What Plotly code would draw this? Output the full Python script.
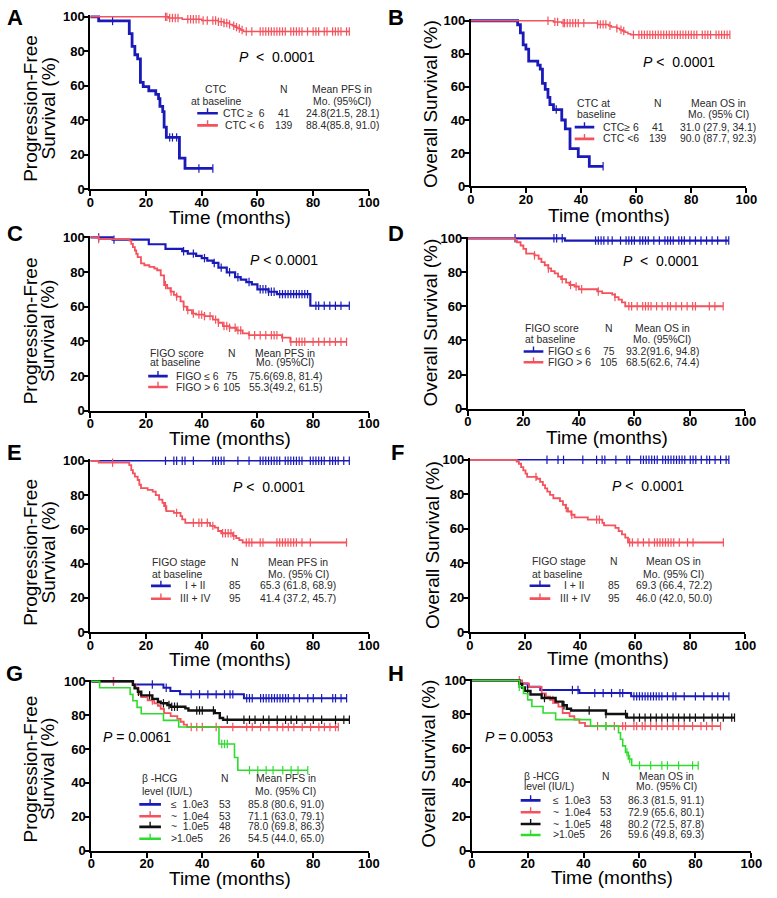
import numpy as np
import plotly.graph_objects as go

W, H = 777, 898
FONT = "Liberation Sans, Arial, sans-serif"
BLUE = "#1a1ab8"
RED = "#f4525c"
BLACK = "#111111"
GREEN = "#2edc2e"

# ---------------- data (time in months, survival in %) ----------------
# A: PFS by CTC at baseline
a_blue_t = [0, 3, 14, 15, 16, 17, 18, 19, 21, 23.5, 24.5, 25, 26, 26.5, 27.3, 32, 34, 44]
a_blue_s = [100, 97.6, 90.2, 82.9, 78.0, 75.6, 62.0, 59.5, 57.1, 55.0, 52.5, 48.0, 45.0, 36.0, 30.0, 18.0, 12.0, 12.0]
a_blue_c = [8, 28.5, 29.5, 31, 39, 44]
a_red_t = [0, 28, 33, 40, 46, 48, 50, 51, 52, 53, 54, 55, 93]
a_red_s = [100, 99.3, 98.6, 97.9, 97.1, 96.4, 95.6, 94.8, 94.0, 93.2, 92.4, 91.5, 91.5]
a_red_c = [27, 27.5, 28.5, 29.5, 30.5, 31.5, 35, 36, 37, 38, 39, 40.5, 42, 44, 45, 46, 47, 48, 49, 50,
           51.5, 52.5, 53.5, 54.5, 56, 58, 61, 62, 63, 64, 65, 66, 67, 68, 69, 70, 72, 73, 74, 75, 76,
           78, 80, 81, 82, 84, 85, 87, 88, 89, 90, 92, 93]

# B: OS by CTC at baseline
b_blue_t = [0, 17, 18, 19, 20, 21, 24.3, 25.2, 26, 27, 28, 28.7, 30, 33, 34.3, 36, 39, 43, 48]
b_blue_s = [100, 97.6, 92.7, 85.4, 82.9, 75.6, 73.2, 70.7, 62.2, 58.5, 53.7, 49.3, 46.3, 40.0, 34.6, 22.7, 17.8, 12.0, 12.0]
b_blue_c = [31, 48]
b_red_t = [0, 30, 33, 46, 50, 51, 53, 54, 55, 56, 57, 58, 94]
b_red_s = [100, 99.3, 98.6, 97.8, 97.0, 96.2, 95.4, 94.6, 93.8, 93.0, 92.2, 91.5, 91.5]
b_red_c = [28, 30.5, 31.5, 33.5, 34, 35, 36, 37, 38, 39, 41, 46, 47, 48, 49, 50.5, 53, 54.5, 55.5, 59,
           61, 62, 63, 64, 65, 66, 67, 68, 69, 70, 71, 72, 73, 74, 75, 76, 77, 78, 79, 80, 81, 82, 84,
           85, 86, 87, 89, 90, 91, 92, 93, 94]

# C: PFS by FIGO score
c_blue_t = [0, 8, 21, 27, 33, 35, 38, 40, 42, 44, 46, 49, 52, 54, 56, 58, 60, 64, 67, 79, 93]
c_blue_s = [100, 98.7, 96.0, 93.3, 92.0, 90.6, 89.3, 88.0, 86.6, 85.2, 82.5, 79.8, 77.0, 75.6, 74.2,
            72.8, 70.0, 68.6, 67.2, 60.5, 60.5]
c_blue_c = [3, 8.5, 33.5, 37, 41, 44.5, 47, 50, 53, 57, 61, 62, 63, 64, 65, 66, 68, 69, 70, 71, 72, 73,
            74, 75, 76, 77, 78, 81, 82, 84, 86, 88, 90, 93]
c_red_t = [0, 3, 14, 14.7, 15.3, 16, 16.5, 17, 18.2, 19.4, 21.2, 23, 24, 25.3, 26.5, 27.6, 28.8, 30, 31,
           32.4, 33.5, 34.7, 36.5, 38, 41, 44, 46, 47.6, 50, 52.4, 54.7, 57, 68.8, 71.8, 92]
c_red_s = [100, 99.0, 98.1, 96.2, 94.3, 92.4, 90.5, 88.6, 85.0, 83.9, 82.9, 82.0, 81.0, 78.0, 72.5, 70.6,
           68.7, 66.8, 65.8, 63.0, 60.0, 58.0, 56.0, 55.4, 54.5, 52.5, 50.7, 48.8, 47.8, 46.3, 44.6,
           43.5, 42.1, 39.7, 39.7]
c_red_c = [3, 27, 29, 31, 33.5, 35, 37, 39, 40, 41, 43, 45, 46, 48, 49, 50, 52, 53, 54, 57, 59, 61, 63,
           65, 66, 67, 69, 72, 74, 75, 76, 77, 80, 82, 84, 86, 88, 90, 92]

# D: OS by FIGO score
d_blue_t = [0, 35, 94]
d_blue_s = [100, 98.7, 98.7]
d_blue_c = [17, 31, 32, 34, 46, 47, 48, 49, 50.5, 52, 55, 57, 58, 59, 60, 62, 63, 64, 65, 67, 69, 71, 72,
            73, 74, 76, 77, 78, 80, 82, 84, 86, 88, 90, 93, 94]
d_red_t = [0, 17, 17.7, 19, 20, 21, 24, 25.5, 26.5, 27.7, 29, 30, 31.3, 32.5, 33.6, 35.4, 36.6, 38.4, 40,
           46.6, 48.4, 52, 53, 54.3, 55.5, 56.7, 92]
d_red_s = [100, 98.6, 97.7, 95.8, 93.8, 91.0, 90.0, 88.0, 86.0, 84.2, 82.3, 80.7, 79.4, 77.5, 76.0, 74.0,
           72.6, 71.7, 70.1, 68.8, 67.8, 66.9, 65.5, 64.0, 62.4, 60.1, 60.1]
d_red_c = [24, 29, 34, 37, 39, 41, 47, 53, 58, 59, 61, 63, 64, 65, 66, 68, 70, 72, 73, 75, 77, 79, 81, 82,
           87, 89, 92]

# E: PFS by FIGO stage
e_blue_t = [0, 93]
e_blue_s = [100, 100]
e_blue_c = [27, 30, 31, 33, 34, 37, 44, 45, 46, 47, 48, 53, 57, 61, 62, 63, 64, 65, 66, 67, 68, 70, 71,
            72, 73, 74, 75, 76, 79, 80, 81, 82, 83, 84, 86, 87, 88, 89, 91, 93]
e_red_t = [0, 3, 14, 14.7, 15.3, 16, 17, 17.6, 18.2, 20.6, 22.4, 23.5, 24.7, 25.9, 26.5, 27.3, 30, 32.4,
           33, 34.1, 43, 44.7, 45.9, 47, 51.2, 52.4, 53.5, 54.7, 92]
e_red_s = [100, 98.9, 97.5, 94.6, 92.7, 90.8, 88.8, 86.0, 84.0, 83.0, 82.0, 80.0, 77.3, 75.4, 73.5, 70.6,
           69.6, 67.7, 65.8, 63.8, 62.0, 61.0, 59.0, 57.7, 56.2, 54.8, 53.7, 52.3, 52.3]
e_red_c = [8, 27, 31, 37, 39, 40, 42, 44, 47.5, 48.5, 49.5, 50.5, 51.5, 56, 57, 58, 61, 62, 67, 68, 69,
           70, 71, 72, 73, 74, 76, 79, 92]

# F: OS by FIGO stage
f_blue_t = [0, 94]
f_blue_s = [100, 100]
f_blue_c = [28, 32, 34, 41, 46, 48, 49, 53, 57, 58, 62, 63, 64, 65, 66, 67, 68, 70, 71, 72, 73, 74, 75,
            76, 77, 78, 80, 81, 82, 84, 86, 87, 89, 91, 93, 94]
f_red_t = [0, 17, 17.8, 18.6, 19.4, 20.2, 20.8, 24.3, 25.5, 26.5, 27.3, 28.1, 29.1, 30.3, 32.7, 33.8,
           34.8, 35.6, 36.8, 38, 42.8, 48.1, 48.7, 52.8, 54, 55.2, 56.4, 57.4, 92]
f_red_s = [100, 98.9, 97.7, 95.8, 93.9, 92.0, 90.1, 89.0, 87.2, 85.3, 83.4, 81.5, 79.6, 77.7, 76.0, 73.9,
           72.0, 70.0, 68.1, 66.6, 65.3, 63.4, 62.0, 60.5, 58.6, 56.7, 54.8, 52.0, 52.0]
f_red_c = [24, 35, 37, 46, 47, 58, 59, 61, 63, 65, 67, 68, 69, 70, 71, 72, 73, 74, 76, 79, 81, 92]

# G: PFS by beta-HCG level
g_blue_t = [0, 15, 26, 28.5, 32, 55, 92]
g_blue_s = [100, 98.1, 96.2, 94.2, 92.3, 90.0, 90.0]
g_blue_c = [8, 22, 27, 36, 39, 42, 45, 48, 50, 51, 56, 57, 58, 61, 62, 63, 64, 65, 66, 67, 68, 69, 70,
            71, 73, 75, 78, 80, 83, 87, 88, 90, 92]
g_red_t = [0, 15, 16, 17, 18, 20.3, 22.7, 24, 25, 26.2, 28.6, 31, 32.2, 33.3, 34.5, 89]
g_red_s = [100, 98.1, 96.2, 92.5, 90.6, 88.7, 87.0, 85.5, 83.8, 81.2, 79.4, 77.8, 76.1, 74.4, 73.0, 73.0]
g_red_c = [8, 22, 36, 38, 40, 45, 51, 56, 58, 61, 64, 67, 69, 71, 73, 76, 79, 82, 84, 86, 88, 89]
g_black_t = [0, 15, 15.6, 16.8, 18, 22, 24, 25, 27.4, 28.6, 33.9, 35, 44.5, 46.3, 47.5, 93]
g_black_s = [100, 97.9, 95.8, 93.8, 91.7, 89.6, 87.9, 87.0, 86.0, 85.0, 84.0, 82.8, 81.2, 78.3, 77.3, 77.3]
g_black_c = [17, 21, 26, 28, 29, 30, 31, 38, 39, 40, 44, 49, 55, 57, 59, 62, 64, 67, 70, 72, 74, 77, 80,
             83, 88, 91, 93]
g_green_t = [0, 3, 14, 15, 16.5, 18, 26, 31.5, 46, 51.6, 52.8, 78]
g_green_s = [100, 96.2, 92.3, 88.5, 84.6, 80.8, 76.9, 73.0, 63.0, 55.0, 47.5, 47.5]
g_green_c = [47, 48, 49, 57, 60, 63, 65.5, 69, 72, 74.5, 78]

# H: OS by beta-HCG level
h_blue_t = [0, 17, 20, 24.5, 38.5, 57, 92]
h_blue_s = [100, 98.1, 96.2, 94.3, 92.5, 90.6, 90.6]
h_blue_c = [36, 38, 44, 47, 50, 53, 54, 58, 59, 60, 61, 62, 63, 64, 65, 66, 67, 68, 70, 72, 73, 76, 80,
            83, 86, 88, 90, 92]
h_red_t = [0, 18, 20.5, 25, 26.5, 28, 29.5, 31, 32.5, 35, 36.7, 38.5, 40.5, 89]
h_red_s = [100, 98.1, 96.2, 92.3, 90.4, 88.5, 86.6, 84.6, 80.8, 78.9, 77.0, 75.0, 73.1, 73.1]
h_red_c = [17, 29, 45, 48, 51, 54, 55, 58, 59, 61, 62, 64, 66, 68, 70, 72, 74, 76, 79, 82, 84, 86, 89]
h_black_t = [0, 17, 18, 19, 21, 25, 30, 32.5, 34, 35.5, 48, 55.5, 94]
h_black_s = [100, 97.9, 95.8, 93.8, 91.7, 89.6, 87.5, 85.4, 83.3, 82.3, 80.2, 78.1, 78.1]
h_black_c = [17, 20, 26, 33, 42, 48, 55, 58, 60, 62, 64, 66, 68, 70, 72, 74, 76, 78, 80, 83, 86, 88, 90,
             93, 94]
h_green_t = [0, 17, 18.5, 20, 21.5, 25.5, 30, 42.5, 52.5, 53.2, 54, 55, 56, 57.2, 81]
h_green_s = [100, 96.2, 92.3, 88.5, 84.6, 80.8, 76.9, 73.1, 69.2, 65.4, 61.5, 57.7, 53.8, 50.0, 50.0]
h_green_c = [17, 48, 55.5, 56.5, 60, 64, 68, 70, 74, 79, 81]

# legend tables
ctc_groups_a = ["CTC \u2265  6", "CTC < 6"]
ctc_groups_b = ["CTC\u2265 6", "CTC <6"]
ctc_n = ["41", "139"]
a_mean = ["24.8(21.5, 28.1)", "88.4(85.8, 91.0)"]
b_mean = ["31.0 (27.9, 34.1)", "90.0 (87.7, 92.3)"]
score_groups = ["FIGO \u2264 6", "FIGO > 6"]
score_n = ["75", "105"]
c_mean = ["75.6(69.8, 81.4)", "55.3(49.2, 61.5)"]
d_mean = ["93.2(91.6, 94.8)", "68.5(62.6, 74.4)"]
stage_groups = ["I + II", "III + IV"]
stage_n = ["85", "95"]
e_mean = ["65.3 (61.8, 68.9)", "41.4 (37.2, 45.7)"]
f_mean = ["69.3 (66.4, 72.2)", "46.0 (42.0, 50.0)"]
hcg_groups = ["\u2264  1.0e3", "~  1.0e4", "~  1.0e5", ">1.0e5"]
hcg_n = ["53", "53", "48", "26"]
g_mean = ["85.8 (80.6, 91.0)", "71.1 (63.0, 79.1)", "78.0 (69.8, 86.3)", "54.5 (44.0, 65.0)"]
h_mean = ["86.3 (81.5, 91.1)", "72.9 (65.6, 80.1)", "80.2 (72.5, 87.8)", "59.6 (49.8, 69.3)"]

PFS_T = ["Progression-Free", "Survival (%)"]
OS_T = ["Overall Survival (%)"]

# ---------------- panel layout (pixel boxes) ----------------
panels = [
    dict(letter="A", box=(88, 372, 11, 186), lxy=(11, 12), yt=PFS_T, ytx=(27, 45), yty=104, xty=215,
         curves=[(a_blue_t, a_blue_s, a_blue_c, BLUE, 2.8), (a_red_t, a_red_s, a_red_c, RED, 1.5)],
         p="<i>P</i>  <  0.0001", pxy=(67, 76.5),
         leg=dict(head=["CTC", "at baseline"], hx=45, ha="center", hy=(57.7, 50.9), nx=69.7, mx=90.5,
                  mh=["Mean PFS in", "Mo. (95%CI)"], ry=[44, 37], lx=(38.4, 45.8), tx=55.3, ta="center",
                  labels=ctc_groups_a, n=ctc_n, means=a_mean, colors=[BLUE, RED])),
    dict(letter="B", box=(476, 757, 15, 183), lxy=(400, 12), yt=OS_T, ytx=(435,), yty=100, xty=213,
         curves=[(b_blue_t, b_blue_s, b_blue_c, BLUE, 2.8), (b_red_t, b_red_s, b_red_c, RED, 1.5)],
         p="<i>P</i> <  0.0001", pxy=(75.4, 75),
         leg=dict(head=["CTC at", "baseline"], hx=37.8, ha="left", hy=(50, 43.5), nx=68, mx=89.7,
                  mh=["Mean OS in", "Mo. (95% CI)"], ry=[35.7, 28.6], lx=(37.7, 44.8), tx=54.4, ta="center",
                  labels=ctc_groups_b, n=ctc_n, means=b_mean, colors=[BLUE, RED])),
    dict(letter="C", box=(88, 372, 235, 411), lxy=(11, 231), yt=PFS_T, ytx=(27, 45), yty=330, xty=439,
         curves=[(c_blue_t, c_blue_s, c_blue_c, BLUE, 2.2), (c_red_t, c_red_s, c_red_c, RED, 1.8)],
         p="<i>P</i> < 0.0001", pxy=(69.4, 87),
         leg=dict(head=["FIGO score", "at baseline"], hx=20.6, ha="left", hy=(33, 27.8), nx=51, mx=70,
                  mh=["Mean PFS in", "Mo. (95%CI)"], ry=[19.9, 13.6], lx=(20.8, 27.8), tx=38.4, ta="center",
                  labels=score_groups, n=score_n, means=c_mean, colors=[BLUE, RED])),
    dict(letter="D", box=(473, 756, 236, 409), lxy=(400, 231), yt=OS_T, ytx=(435,), yty=322, xty=438,
         curves=[(d_blue_t, d_blue_s, d_blue_c, BLUE, 2.2), (d_red_t, d_red_s, d_red_c, RED, 1.8)],
         p="<i>P</i>  <  0.0001", pxy=(69.6, 86.7),
         leg=dict(head=["FIGO score", "at baseline"], hx=20.0, ha="left", hy=(46.8, 40.5), nx=50.9, mx=70,
                  mh=["Mean OS in", "Mo. (95%CI)"], ry=[33.5, 27.2], lx=(20.1, 27.2), tx=36.7, ta="center",
                  labels=score_groups, n=score_n, means=d_mean, colors=[BLUE, RED])),
    dict(letter="E", box=(88, 372, 462, 636), lxy=(11, 454), yt=PFS_T, ytx=(27, 45), yty=555, xty=664,
         curves=[(e_blue_t, e_blue_s, e_blue_c, BLUE, 1.6), (e_red_t, e_red_s, e_red_c, RED, 1.8)],
         p="<i>P</i> <  0.0001", pxy=(64, 84.5),
         leg=dict(head=["FIGO stage", "at baseline"], hx=21.6, ha="left", hy=(40.8, 33.9), nx=51.8, mx=74.6,
                  mh=["Mean PFS in", "Mo. (95% CI)"], ry=[27, 19.5], lx=(21.8, 28.9), tx=37.7, ta="center",
                  labels=stage_groups, n=stage_n, means=e_mean, colors=[BLUE, RED])),
    dict(letter="F", box=(475, 756, 461, 636), lxy=(401, 454), yt=OS_T, ytx=(437,), yty=548, xty=663,
         curves=[(f_blue_t, f_blue_s, f_blue_c, BLUE, 1.6), (f_red_t, f_red_s, f_red_c, RED, 1.8)],
         p="<i>P</i> <  0.0001", pxy=(64.8, 84.6),
         leg=dict(head=["FIGO stage", "at baseline"], hx=21.8, ha="left", hy=(41, 33.7), nx=52.3, mx=74,
                  mh=["Mean OS in", "Mo. (95% CI)"], ry=[26.9, 19.4], lx=(21.7, 29.2), tx=38, ta="center",
                  labels=stage_groups, n=stage_n, means=f_mean, colors=[BLUE, RED])),
    dict(letter="G", box=(89, 372, 686, 858), lxy=(11, 678), yt=PFS_T, ytx=(27, 45), yty=775, xty=886,
         curves=[(g_blue_t, g_blue_s, g_blue_c, BLUE, 2.0), (g_red_t, g_red_s, g_red_c, RED, 1.8),
                 (g_black_t, g_black_s, g_black_c, BLACK, 2.4), (g_green_t, g_green_s, g_green_c, GREEN, 1.6)],
         p="<i>P</i> = 0.0061", pxy=(16.3, 67),
         leg=dict(head=["\u03b2 -HCG", "level (IU/L)"], hx=17.7, ha="left", hy=(42.7, 35.2), nx=48, mx=70,
                  mh=["Mean PFS in", "Mo. (95% CI)"], ry=[27.3, 20.3, 14, 7], lx=(17.3, 25.1), tx=27.9, ta="left",
                  labels=hcg_groups, n=hcg_n, means=g_mean, colors=[BLUE, RED, BLACK, GREEN])),
    dict(letter="H", box=(477, 762, 685, 858), lxy=(400, 678), yt=OS_T, ytx=(433,), yty=770, xty=885,
         curves=[(h_blue_t, h_blue_s, h_blue_c, BLUE, 2.0), (h_red_t, h_red_s, h_red_c, RED, 1.8),
                 (h_black_t, h_black_s, h_black_c, BLACK, 2.4), (h_green_t, h_green_s, h_green_c, GREEN, 1.6)],
         p="<i>P</i> = 0.0053", pxy=(16.8, 67),
         leg=dict(head=["\u03b2 -HCG", "level (IU/L)"], hx=17.9, ha="left", hy=(43.4, 37.6), nx=48, mx=69.5,
                  mh=["Mean OS in", "Mo. (95% CI)"], ry=[29.5, 22.5, 15.6, 9.2], lx=(17.5, 24.6), tx=28.4, ta="left",
                  labels=hcg_groups, n=hcg_n, means=h_mean, colors=[BLUE, RED, BLACK, GREEN])),
]

YTOP = 101.0  # small headroom so lines at 100% are not clipped

axis_common = dict(showline=True, linecolor="black", linewidth=2, ticks="outside", ticklen=5,
                   tickwidth=2, tickcolor="black", showgrid=False, zeroline=False,
                   tickvals=[0, 20, 40, 60, 80, 100],
                   tickfont=dict(family=FONT, size=13, color="black", weight="bold"))

fig = go.Figure()
annotations = []
shapes = []


def step_value(t, s, c):
    idx = np.searchsorted(np.asarray(t, float), np.asarray(c, float), side="right") - 1
    return np.asarray(s, float)[idx]


for i, p in enumerate(panels):
    k = "" if i == 0 else str(i + 1)
    xa, ya = "x" + k, "y" + k
    x0, x1, y100, y0 = p["box"]
    ytop_px = y0 - (y0 - y100) * YTOP / 100.0

    for t, s, c, col, w in p["curves"]:
        fig.add_trace(go.Scatter(x=t, y=s, mode="lines", line=dict(color=col, width=w, shape="hv"),
                                 xaxis=xa, yaxis=ya, showlegend=False, hoverinfo="skip"))
        fig.add_trace(go.Scatter(x=c, y=step_value(t, s, c), mode="markers",
                                 marker=dict(symbol="line-ns", size=6, line=dict(color=col, width=1.2)),
                                 xaxis=xa, yaxis=ya, showlegend=False, cliponaxis=False, hoverinfo="skip"))

    fig.layout["xaxis" + k] = dict(axis_common, domain=[x0 / W, x1 / W], anchor=ya, range=[0, 100],
                                   ticklabelstandoff=-5)
    fig.layout["yaxis" + k] = dict(axis_common, domain=[1 - y0 / H, 1 - ytop_px / H], anchor=xa,
                                   range=[0, YTOP], ticklabelstandoff=-4)

    # panel letter
    lx, ly = p["lxy"]
    annotations.append(dict(text="<b>%s</b>" % p["letter"], x=lx / W, y=1 - ly / H, xref="paper",
                            yref="paper", showarrow=False, xanchor="center", yanchor="middle",
                            font=dict(family=FONT, size=22, color="black")))
    # y title lines
    for txt_, cx in zip(p["yt"], p["ytx"]):
        annotations.append(dict(text=txt_, x=cx / W, y=1 - p["yty"] / H, xref="paper", yref="paper",
                                showarrow=False, textangle=-90, xanchor="center", yanchor="middle",
                                font=dict(family=FONT, size=19, color="black")))
    # x title
    annotations.append(dict(text="Time (months)", x=(x0 + x1) / 2 / W, y=1 - p["xty"] / H,
                            xref="paper", yref="paper", showarrow=False, xanchor="center",
                            yanchor="middle", font=dict(family=FONT, size=19, color="black")))
    # p value
    annotations.append(dict(text=p["p"], x=p["pxy"][0], y=p["pxy"][1], xref=xa, yref=ya,
                            showarrow=False, xanchor="center", yanchor="middle",
                            font=dict(family=FONT, size=14, color="black")))

    lg = p["leg"]
    small = dict(family=FONT, size=10.4, color="#2a2a2a")

    def txt(s, x, y, anchor="center"):
        annotations.append(dict(text=s, x=x, y=y, xref=xa, yref=ya, showarrow=False,
                                xanchor=anchor, yanchor="middle", font=small))

    for j, hy in enumerate(lg["hy"]):
        txt(lg["head"][j], lg["hx"], hy, lg["ha"])
        txt(lg["mh"][j], lg["mx"], hy)
    txt("N", lg["nx"], lg["hy"][0])
    for j, ry in enumerate(lg["ry"]):
        col = lg["colors"][j]
        shapes.append(dict(type="line", xref=xa, yref=ya, x0=lg["lx"][0], x1=lg["lx"][1], y0=ry, y1=ry,
                           line=dict(color=col, width=2.6)))
        mid = (lg["lx"][0] + lg["lx"][1]) / 2
        shapes.append(dict(type="line", xref=xa, yref=ya, x0=mid, x1=mid, y0=ry, y1=ry + 3,
                           line=dict(color=col, width=1.4)))
        txt(lg["labels"][j], lg["tx"], ry, lg["ta"])
        txt(lg["n"][j], lg["nx"], ry)
        txt(lg["means"][j], lg["mx"], ry)

fig.update_layout(width=W, height=H, margin=dict(l=0, r=0, t=0, b=0),
                  paper_bgcolor="white", plot_bgcolor="white",
                  font=dict(family=FONT, color="black"),
                  annotations=annotations, shapes=shapes, showlegend=False)

# page body has a default 8px margin; drop it so the figure sits at the window origin
fig.write_html("out.html", config={"displayModeBar": False},
               post_script="document.body.style.margin='0px';")
